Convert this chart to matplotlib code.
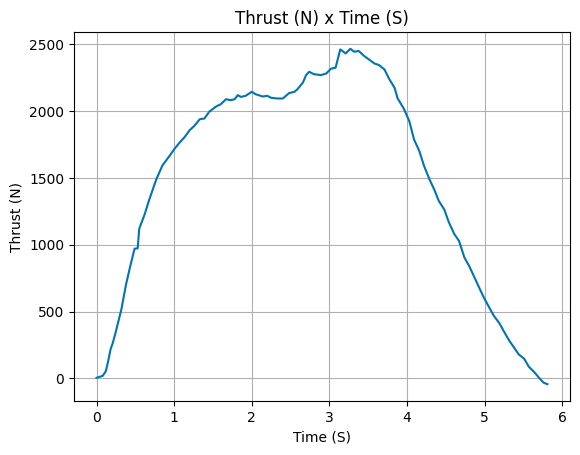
import matplotlib
matplotlib.use('Agg')
import matplotlib.pyplot as plt

# tempo (s) e empuxo (N)
time_s = [0.0, 0.08, 0.12, 0.15, 0.18, 0.21, 0.25, 0.32, 0.38, 0.44, 0.49, 0.53, 0.55,
          0.62, 0.68, 0.77, 0.85, 0.94, 1.0, 1.07, 1.13, 1.2, 1.26, 1.33, 1.39, 1.45,
          1.54, 1.6, 1.67, 1.73, 1.78, 1.82, 1.86, 1.92, 2.0, 2.05, 2.14, 2.2, 2.25,
          2.33, 2.4, 2.48, 2.55, 2.59, 2.66, 2.7, 2.74, 2.8, 2.89, 2.96, 3.02, 3.08,
          3.14, 3.21, 3.27, 3.32, 3.38, 3.45, 3.51, 3.58, 3.64, 3.71, 3.77, 3.84,
          3.88, 3.96, 4.03, 4.09, 4.16, 4.22, 4.29, 4.35, 4.41, 4.48, 4.54, 4.61,
          4.67, 4.74, 4.8, 4.86, 4.93, 4.99, 5.06, 5.12, 5.19, 5.25, 5.32, 5.38,
          5.44, 5.51, 5.57, 5.64, 5.7, 5.76, 5.81]
thrust_n = [5, 20, 55, 130, 217, 267, 354, 517, 704, 854, 971, 974, 1121,
            1228, 1340, 1490, 1595, 1665, 1715, 1765, 1803, 1858, 1890, 1940, 1945, 1995,
            2035, 2052, 2090, 2082, 2090, 2120, 2107, 2115, 2145, 2127, 2110, 2115, 2100,
            2095, 2095, 2135, 2145, 2165, 2215, 2270, 2295, 2277, 2270, 2282, 2318, 2325,
            2462, 2432, 2467, 2445, 2450, 2412, 2387, 2357, 2345, 2312, 2242, 2175,
            2095, 2018, 1925, 1790, 1700, 1590, 1490, 1415, 1328, 1265, 1168, 1080,
            1030, 905, 843, 768, 680, 606, 531, 468, 414, 351, 281, 231,
            180, 148, 88, 48, 6, -31, -43]

fig = plt.figure(figsize=(5.8, 4.55), dpi=100)
ax = fig.add_axes([74 / 580, 54 / 455, 496 / 580, 369 / 455])

ax.plot(time_s, thrust_n, color='#0173b2', linewidth=1.5)
ax.set_title('Thrust (N) x Time (S)')
ax.set_xlabel('Time (S)')
ax.set_ylabel('Thrust (N)')
ax.grid(True)

fig.savefig('out.png')
